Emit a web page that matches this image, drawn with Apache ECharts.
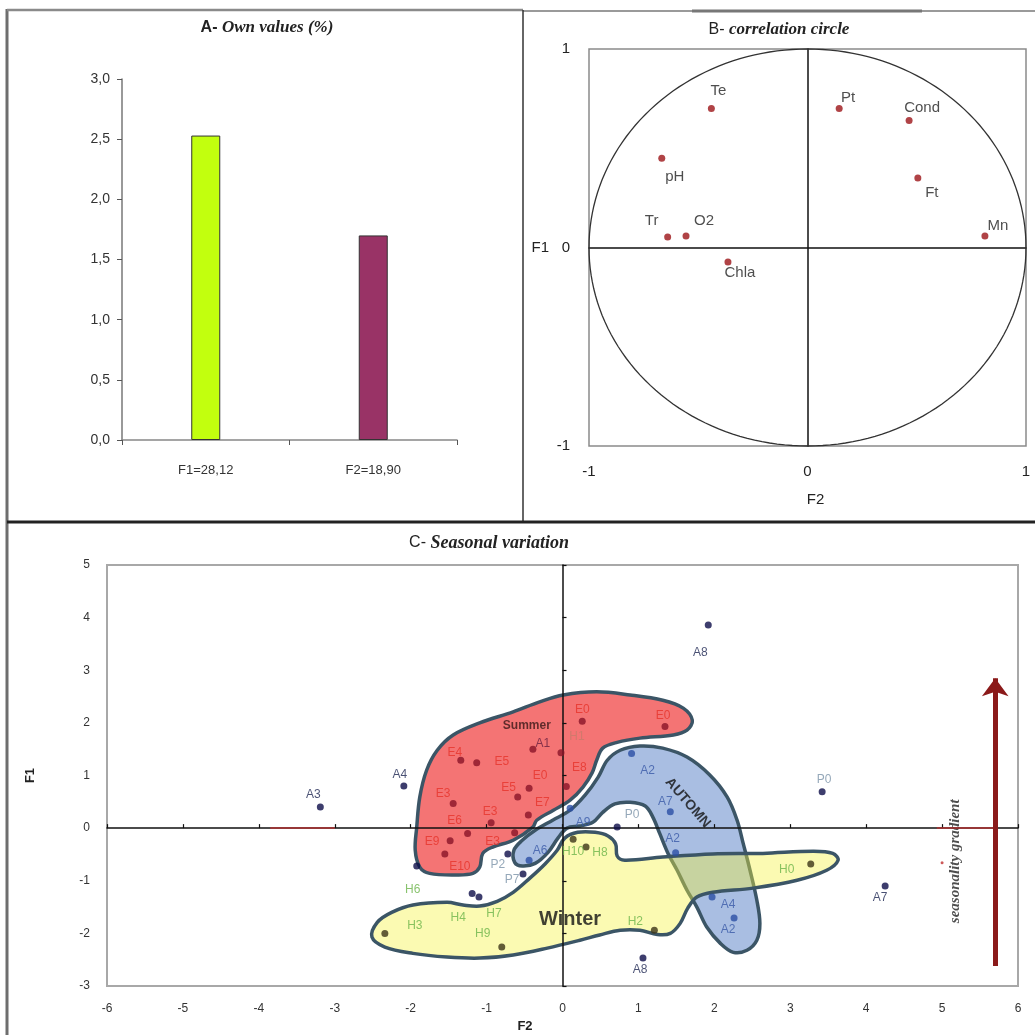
<!DOCTYPE html>
<html><head><meta charset="utf-8">
<script src="https://cdn.jsdelivr.net/npm/echarts@6/dist/echarts.min.js"></script>
<style>html,body{margin:0;padding:0;background:#fff}#c{width:1035px;height:1035px}</style>
</head><body><div id="c"></div>
<script>
// ---------- Panel A: eigenvalues ----------
const eigenCategories = ['F1=28,12', 'F2=18,90'];
const eigenValues = [2.53, 1.70];
const eigenColors = ['#c2ff0e', '#993366'];

// ---------- Panel B: correlation circle ----------
const varNames = ['Te', 'Pt', 'Cond', 'pH', 'Ft', 'Tr', 'O2', 'Mn', 'Chla'];
const varF2 = [-0.44, 0.145, 0.465, -0.667, 0.505, -0.64, -0.556, 0.812, -0.364];
const varF1 = [0.70, 0.70, 0.64, 0.45, 0.35, 0.053, 0.058, 0.058, -0.073];
const varLabelOffsets = [[7,-18],[9,-11],[13,-13],[13,19],[14,15],[-16,-16],[18,-15],[13,-10],[12,11]];

// ---------- Panel C: seasonal variation (F2, F1) ----------
const summerNames = ['E4','E5','A1','H1','E0','E0','E0','E5','E3','E7','E3','E6','E3','E9','E10','E8'];
const summerF2 = [-1.34,-1.13,-0.39,-0.02,0.26,1.35,-0.44,-0.59,-1.44,-0.45,-0.94,-1.25,-0.63,-1.48,-1.55,0.05];
const summerF1 = [1.29,1.24,1.50,1.43,2.03,1.93,0.76,0.59,0.47,0.25,0.10,-0.10,-0.09,-0.24,-0.49,0.79];
const summerLabelOffsets = [[-6,-8],[25,-1],[10,-6],[16,-16],[0,-12],[-2,-11],[11,-12],[-9,-9],[-10,-10],[14,-12],[-1,-11],[-13,-13],[-22,9],[-18,1],[15,13],[13,-19]];

const autumnNames = ['A2','A7','A2','A4','A2','A9','A6'];
const autumnF2 = [0.91,1.42,1.49,1.97,2.26,0.10,-0.44];
const autumnF1 = [1.42,0.31,-0.47,-1.31,-1.71,0.38,-0.61];
const autumnLabelOffsets = [[16,17],[-5,-10],[-3,-14],[16,8],[-6,12],[13,15],[11,-10]];

const otherNames = ['A3','A4','A8','A8','A7','P0','P0','P2','P7','H6','H4','H7'];
const otherF2 = [-3.19,-2.09,1.92,1.06,4.25,3.42,0.72,-0.72,-0.52,-1.92,-1.19,-1.10];
const otherF1 = [0.40,0.80,3.86,-2.47,-1.10,0.69,0.02,-0.49,-0.87,-0.72,-1.24,-1.31];
const otherLabelOffsets = [[-7,-12],[-4,-11],[-8,28],[-3,12],[-5,12],[2,-12],[15,-12],[-10,11],[-11,6],[-4,24],[-14,24],[15,17]];

const winterNames = ['H3','H9','H2','H0','H10','H8'];
const winterF2 = [-2.34,-0.80,1.21,3.27,0.14,0.31];
const winterF1 = [-2.00,-2.26,-1.94,-0.68,-0.21,-0.36];
const winterLabelOffsets = [[30,-8],[-19,-13],[-19,-9],[-24,6],[0,13],[14,6]];

const strayF2 = [5.0];
const strayF1 = [-0.66];

// season envelopes (F2, F1)
const summerShape = [[0.01,2.53],[0.45,2.59],[0.89,2.53],[1.32,2.43],[1.59,2.28],[1.71,2.05],[1.64,1.86],[1.46,1.77],[1.02,1.71],[0.72,1.63],[0.53,1.52],[0.45,1.29],[0.39,1.05],[0.27,0.78],[0.10,0.53],[-0.12,0.34],[-0.34,0.15],[-0.39,0.02],[-0.65,-0.23],[-0.92,-0.36],[-1.05,-0.48],[-1.09,-0.74],[-1.18,-0.86],[-1.39,-0.89],[-1.75,-0.86],[-1.88,-0.74],[-1.94,-0.42],[-1.92,0.02],[-1.88,0.59],[-1.79,1.10],[-1.65,1.48],[-1.44,1.77],[-1.09,2.00],[-0.65,2.21],[-0.30,2.40]];
const autumnShape = [[-0.63,-0.65],[-0.64,-0.42],[-0.53,-0.23],[-0.36,-0.04],[-0.13,0.15],[0.10,0.34],[0.30,0.63],[0.47,0.97],[0.59,1.29],[0.76,1.48],[1.02,1.56],[1.32,1.52],[1.64,1.35],[1.94,1.01],[2.17,0.59],[2.30,0.15],[2.38,-0.29],[2.47,-0.80],[2.56,-1.37],[2.60,-1.81],[2.56,-2.13],[2.43,-2.32],[2.25,-2.36],[2.08,-2.19],[1.90,-1.88],[1.77,-1.50],[1.64,-1.18],[1.51,-0.80],[1.39,-0.48],[1.28,-0.10],[1.19,0.21],[1.09,0.42],[0.89,0.49],[0.69,0.46],[0.53,0.30],[0.40,0.11],[0.23,0.04],[0.06,0.00],[-0.06,-0.19],[-0.19,-0.46],[-0.36,-0.67],[-0.53,-0.72]];
const winterShape = [[-2.51,-2.07],[-2.44,-1.79],[-2.25,-1.60],[-1.97,-1.46],[-1.52,-1.41],[-1.31,-1.46],[-1.09,-1.48],[-0.86,-1.39],[-0.65,-1.22],[-0.43,-0.95],[-0.23,-0.68],[-0.07,-0.42],[0.03,-0.19],[0.20,-0.08],[0.43,-0.08],[0.60,-0.15],[0.70,-0.30],[0.72,-0.53],[0.82,-0.61],[1.32,-0.55],[1.98,-0.49],[2.64,-0.48],[3.30,-0.44],[3.56,-0.48],[3.63,-0.61],[3.48,-0.80],[3.09,-0.99],[2.51,-1.14],[1.98,-1.22],[1.77,-1.31],[1.65,-1.52],[1.55,-1.81],[1.42,-2.00],[1.25,-2.02],[1.02,-1.94],[0.76,-1.94],[0.49,-2.03],[0.23,-2.13],[-0.20,-2.28],[-0.65,-2.41],[-1.09,-2.47],[-1.52,-2.45],[-1.97,-2.38],[-2.34,-2.26]];

const annoTexts = ['Summer', 'Winter', 'AUTOMN', 'seasonality gradient'];
const annoF2 = [-0.47, 0.10, 1.65, 5.17];
const annoF1 = [1.94, -1.73, 0.48, -0.63];
const gradientArrow = [[5.70, -2.62], [5.70, 2.85]];
const axisRedMarks = [[[-3.85, 0], [-3.0, 0]], [[4.93, 0], [5.70, 0]]];

// ---------- helpers ----------
const SANS = 'Liberation Sans';
const SERIF = 'Liberation Serif';
const OUTLINE = '#3b5566';

function pts(names, xs, ys, offs, dotColor, labelColorFn) {
  return names.map((n, i) => ({
    name: n, value: [xs[i], ys[i]],
    itemStyle: { color: dotColor },
    label: { show: true, position: 'inside', offset: offs[i], formatter: '{b}',
      color: labelColorFn(n), fontSize: 12, fontFamily: SANS }
  }));
}
function blob(shape, fill, extra) {
  return {
    type: 'custom', xAxisIndex: 3, yAxisIndex: 3, silent: true, z: 1,
    data: shape,
    renderItem: function (params, api) {
      if (params.dataIndex !== 0) return null;
      const p = shape.map(d => api.coord(d));
      return { type: 'polygon', shape: { points: p, smooth: 0.35 },
        style: Object.assign({ fill: fill, stroke: OUTLINE, lineWidth: 3.5 }, extra || {}) };
    }
  };
}
const greenLbl = '#6cb44a';
function otherColor(n) { return n[0] === 'A' ? '#1c2450' : (n[0] === 'P' ? '#7a92a8' : greenLbl); }
function summerColor(n) { return n[0] === 'E' ? '#e6332a' : (n === 'A1' ? '#6a2040' : '#c87a6a'); }

const chart = echarts.init(document.getElementById('c'), null, { renderer: 'canvas' });

const valueAxisBase = (grid, min, max, interval) => ({
  type: 'value', gridIndex: grid, min: min, max: max, interval: interval,
  splitLine: { show: false }
});

const annoStyles = [
  { fontFamily: SANS, fontSize: 12, fontWeight: 'bold', color: '#3a1818' },
  { fontFamily: SANS, fontSize: 20, fontWeight: 'bold', color: '#111' },
  { fontFamily: SANS, fontSize: 14, fontWeight: 'bold', color: '#111', rotate: -49 },
  { fontFamily: SERIF, fontSize: 15, fontWeight: 'bold', fontStyle: 'italic', color: '#222', rotate: 90 }
];

const option = {
  animation: false,
  backgroundColor: '#fff',
  grid: [
    { left: 122, top: 79, width: 335, height: 361, show: false },
    { left: 589, top: 49, width: 437, height: 397, show: true, borderColor: '#8a8a8a', borderWidth: 1.5 },
    { left: 107, top: 565, width: 911, height: 421, show: true, borderColor: '#a8a8a8', borderWidth: 2 }
  ],
  xAxis: [
    { type: 'category', gridIndex: 0, data: eigenCategories,
      axisLine: { lineStyle: { color: '#888', width: 1.5 } },
      axisTick: { show: true, length: 5, lineStyle: { color: '#555' } },
      axisLabel: { margin: 24, fontSize: 13, color: '#333', fontFamily: SANS } },
    Object.assign(valueAxisBase(1, -1, 1, 1), {
      axisLine: { show: false, onZero: false }, axisTick: { show: false },
      axisLabel: { fontSize: 15, color: '#222', margin: 18, fontFamily: SANS },
      name: 'F2', nameLocation: 'middle', nameGap: 46,
      nameTextStyle: { fontSize: 15, color: '#222', fontFamily: SANS, padding: [0, 0, 0, 16] } }),
    Object.assign(valueAxisBase(1, -1, 1, 1), {
      axisLine: { show: true, onZero: true, lineStyle: { color: '#111', width: 1.5 } },
      axisTick: { show: false }, axisLabel: { show: false } }),
    Object.assign(valueAxisBase(2, -6, 6, 1), {
      axisLine: { show: false, onZero: false }, axisTick: { show: false },
      axisLabel: { fontSize: 12, color: '#333', margin: 17, fontFamily: SANS },
      name: 'F2', nameLocation: 'middle', nameGap: 34,
      nameTextStyle: { fontSize: 13, fontWeight: 'bold', color: '#222', fontFamily: SANS, padding: [0, 75, 0, 0] } }),
    Object.assign(valueAxisBase(2, -6, 6, 1), {
      z: 2,
      axisLine: { show: true, onZero: true, lineStyle: { color: '#111', width: 1.5 } },
      axisTick: { show: true, length: 4, lineStyle: { color: '#111', width: 1.2 } },
      axisLabel: { show: false } })
  ],
  yAxis: [
    Object.assign(valueAxisBase(0, 0, 3, 0.5), {
      axisLine: { show: true, lineStyle: { color: '#777', width: 1.5 } },
      axisTick: { show: true, length: 5, lineStyle: { color: '#555' } },
      axisLabel: { fontSize: 14, color: '#333', margin: 12, fontFamily: SANS,
        formatter: v => v.toFixed(1).replace('.', ',') } }),
    Object.assign(valueAxisBase(1, -1, 1, 1), {
      axisLine: { show: false, onZero: false }, axisTick: { show: false },
      axisLabel: { fontSize: 15, color: '#222', margin: 19, fontFamily: SANS },
      name: 'F1', nameLocation: 'middle', nameGap: 40, nameRotate: 0,
      nameTextStyle: { fontSize: 15, color: '#222', fontFamily: SANS } }),
    Object.assign(valueAxisBase(1, -1, 1, 1), {
      axisLine: { show: true, onZero: true, lineStyle: { color: '#111', width: 1.5 } },
      axisTick: { show: false }, axisLabel: { show: false } }),
    Object.assign(valueAxisBase(2, -3, 5, 1), {
      axisLine: { show: false, onZero: false }, axisTick: { show: false },
      axisLabel: { fontSize: 12, color: '#333', margin: 17, fontFamily: SANS },
      name: 'F1', nameLocation: 'middle', nameGap: 70,
      nameTextStyle: { fontSize: 13, fontWeight: 'bold', color: '#222', fontFamily: SANS } }),
    Object.assign(valueAxisBase(2, -3, 5, 1), {
      z: 2,
      axisLine: { show: true, onZero: true, lineStyle: { color: '#111', width: 1.5 } },
      axisTick: { show: true, length: 4, lineStyle: { color: '#111', width: 1.2 } },
      axisLabel: { show: false } })
  ],
  graphic: [
    { type: 'line', shape: { x1: 7, y1: 9, x2: 7, y2: 1035 }, style: { stroke: '#6e6e6e', lineWidth: 3 } },
    { type: 'line', shape: { x1: 7, y1: 10, x2: 523, y2: 10 }, style: { stroke: '#8a8a8a', lineWidth: 2.5 } },
    { type: 'line', shape: { x1: 523, y1: 11, x2: 1035, y2: 11 }, style: { stroke: '#9a9a9a', lineWidth: 2 } },
    { type: 'line', shape: { x1: 692, y1: 11, x2: 922, y2: 11 }, style: { stroke: '#777', lineWidth: 3 } },
    { type: 'line', shape: { x1: 523, y1: 10, x2: 523, y2: 522 }, style: { stroke: '#333', lineWidth: 1.5 } },
    { type: 'line', shape: { x1: 7, y1: 522, x2: 1035, y2: 522 }, style: { stroke: '#222', lineWidth: 3 } },
    { type: 'text', x: 267, y: 28, style: { text: '{a|A- }{b|Own values (%)}', align: 'center', verticalAlign: 'middle',
      rich: { a: { fontFamily: SANS, fontSize: 16, fontWeight: 'bold', fill: '#222' },
              b: { fontFamily: SERIF, fontSize: 17, fontWeight: 'bold', fontStyle: 'italic', fill: '#222' } } } },
    { type: 'text', x: 779, y: 30, style: { text: '{a|B- }{b|correlation circle}', align: 'center', verticalAlign: 'middle',
      rich: { a: { fontFamily: SANS, fontSize: 16, fill: '#222' },
              b: { fontFamily: SERIF, fontSize: 17, fontWeight: 'bold', fontStyle: 'italic', fill: '#222' } } } },
    { type: 'text', x: 489, y: 543, style: { text: '{a|C- }{b|Seasonal variation}', align: 'center', verticalAlign: 'middle',
      rich: { a: { fontFamily: SANS, fontSize: 16, fill: '#222' },
              b: { fontFamily: SERIF, fontSize: 18, fontWeight: 'bold', fontStyle: 'italic', fill: '#222' } } } }
  ],
  series: [
    { type: 'bar', xAxisIndex: 0, yAxisIndex: 0, barWidth: 29,
      data: eigenValues.map((v, i) => ({ value: v, itemStyle: { color: eigenColors[i], borderColor: '#333', borderWidth: 1 } })) },
    { type: 'custom', xAxisIndex: 1, yAxisIndex: 1, silent: true, data: [[0, 0]],
      renderItem: function (params, api) {
        const p = [];
        for (let k = 0; k <= 180; k++) { const a = 2 * Math.PI * k / 180; p.push(api.coord([Math.cos(a), Math.sin(a)])); }
        return { type: 'polyline', shape: { points: p }, style: { stroke: '#333', lineWidth: 1.3, fill: 'none' } };
      } },
    { type: 'scatter', xAxisIndex: 1, yAxisIndex: 1, symbolSize: 7, z: 3,
      data: varNames.map((n, i) => ({ name: n, value: [varF2[i], varF1[i]],
        label: { show: true, position: 'inside', offset: varLabelOffsets[i], formatter: '{b}', fontSize: 15, color: '#222', fontFamily: SANS } })),
      itemStyle: { color: '#9c1418' } },
    blob(summerShape, '#f47474'),
    blob(autumnShape, '#a9bee2'),
    blob(winterShape, 'rgba(245,242,62,0.4)'),
    { type: 'scatter', xAxisIndex: 3, yAxisIndex: 3, symbolSize: 7, z: 3,
      data: pts(summerNames, summerF2, summerF1, summerLabelOffsets, '#8a1428', summerColor) },
    { type: 'scatter', xAxisIndex: 3, yAxisIndex: 3, symbolSize: 7, z: 3,
      data: pts(autumnNames, autumnF2, autumnF1, autumnLabelOffsets, '#2b4fa5', () => '#3a5aa8') },
    { type: 'scatter', xAxisIndex: 3, yAxisIndex: 3, symbolSize: 7, z: 3,
      data: pts(otherNames, otherF2, otherF1, otherLabelOffsets, '#0d0d48', otherColor) },
    { type: 'scatter', xAxisIndex: 3, yAxisIndex: 3, symbolSize: 7, z: 3,
      data: pts(winterNames, winterF2, winterF1, winterLabelOffsets, '#3c3418', () => greenLbl) },
    { type: 'scatter', xAxisIndex: 3, yAxisIndex: 3, symbolSize: 3, z: 3,
      data: strayF2.map((x, i) => [x, strayF1[i]]), itemStyle: { color: '#c03030' },
      markLine: { silent: true, symbol: ['none', 'none'], label: { show: false },
        lineStyle: { color: '#b03030', width: 1.5, type: 'solid' },
        data: axisRedMarks.map(s => [{ coord: s[0] }, { coord: s[1] }]) } },
    { type: 'scatter', xAxisIndex: 3, yAxisIndex: 3, symbolSize: 0, z: 4, silent: true,
      data: annoTexts.map((t, i) => ({ name: t, value: [annoF2[i], annoF1[i]],
        label: Object.assign({ show: true, position: 'inside', formatter: '{b}' }, annoStyles[i]) })),
      markLine: { silent: true, symbol: ['none', 'arrow'], symbolSize: [20, 18], label: { show: false },
        lineStyle: { color: '#8b1a1a', width: 5, type: 'solid' },
        data: [[{ coord: gradientArrow[0] }, { coord: gradientArrow[1] }]] } }
  ]
};
chart.setOption(option);
</script>
</body></html>
